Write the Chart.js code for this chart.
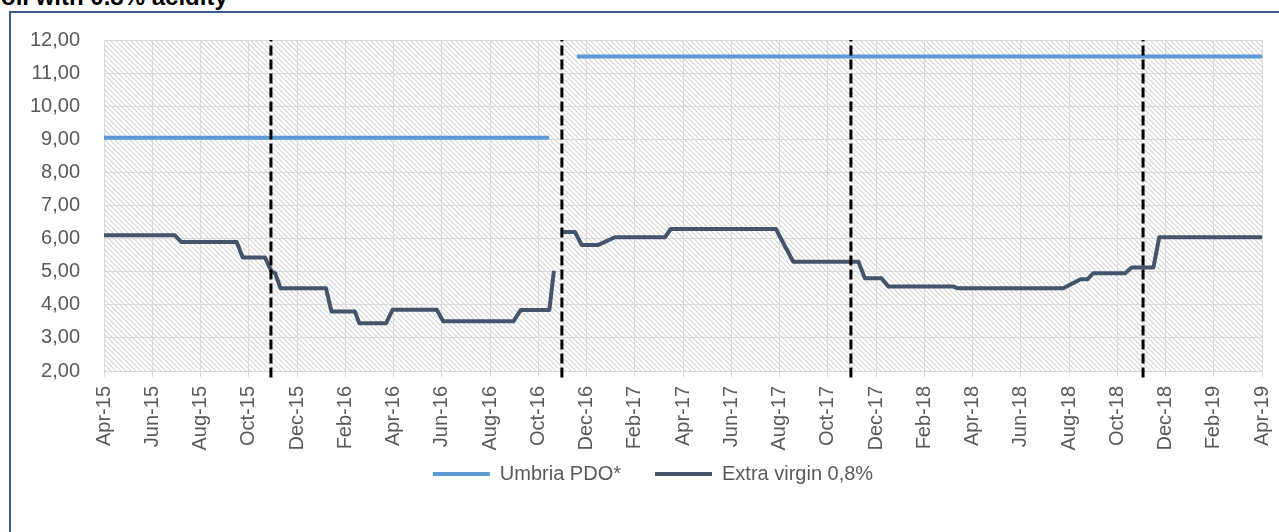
<!DOCTYPE html>
<html lang="en">
<head>
  <meta charset="UTF-8">
  <title>Extra virgin olive oil prices</title>
  <script src="https://cdn.jsdelivr.net/npm/chart.js"></script>
  <style>
    html, body { margin: 0; padding: 0; background: #fff; overflow: hidden; }
    body { width: 1279px; height: 532px; position: relative; font-family: "Liberation Sans", Arial, sans-serif; }
    #titulo { position: absolute; left: 1px; top: -15px; font-weight: bold; font-size: 24px; line-height: 24px; color: #000; white-space: nowrap; }
    #marco { position: absolute; left: 9px; top: 11px; width: 1290px; height: 540px; border: 2px solid #385D8A; }
    #wrap { position: absolute; left: 0; top: 0; width: 1279px; height: 532px; }
  </style>
</head>
<body>
  <div id="titulo">oil with 0.8% acidity</div>
  <div id="marco"></div>
  <div id="wrap"><canvas id="grafico" width="1279" height="532"></canvas></div>

  <script>
    // etiquetas del eje x (cada 2 meses desde Apr-15)
    const xLabels = ['Apr-15','Jun-15','Aug-15','Oct-15','Dec-15','Feb-16','Apr-16','Jun-16','Aug-16','Oct-16','Dec-16',
      'Feb-17','Apr-17','Jun-17','Aug-17','Oct-17','Dec-17','Feb-18','Apr-18','Jun-18','Aug-18','Oct-18','Dec-18','Feb-19','Apr-19'];

    // x = meses desde Apr-15
    const umbriaX = [0, 18.45, 18.9, 19.6, 48];
    const umbriaY = [9.05, 9.05, null, 11.5, 11.5];

    const evX = [0, 2.94, 3.2, 5.5, 5.75, 6.67, 6.95, 7.09, 7.32, 9.2, 9.43, 10.4, 10.58, 11.69, 11.96, 13.79, 14.06,
      16.97, 17.27, 18.46, 18.65, 18.8, 19.03, 19.52, 19.8, 20.49, 21.18, 23.25, 23.49, 27.85, 28.57, 31.27, 31.54,
      32.23, 32.51, 35.2, 35.41, 39.76, 40.48, 40.76, 41.0, 42.32, 42.6, 43.5, 43.74, 48];
    const evY = [6.1, 6.1, 5.9, 5.9, 5.43, 5.43, 5.0, 4.96, 4.5, 4.5, 3.8, 3.8, 3.44, 3.44, 3.85, 3.85, 3.5,
      3.5, 3.84, 3.84, 5.03, null, 6.2, 6.2, 5.81, 5.81, 6.04, 6.04, 6.29, 6.29, 5.3, 5.3, 4.8,
      4.8, 4.55, 4.55, 4.5, 4.5, 4.77, 4.77, 4.95, 4.95, 5.13, 5.13, 6.04, 6.04];

    // separadores verticales (campañas)
    const cortes = [6.92, 18.98, 30.96, 43.07];
    const corteY = [1.8, 12];

    const pares = (xs, ys) => xs.map((x, i) => ({ x: x, y: ys[i] }));

    function rayado() {
      const c = document.createElement('canvas');
      c.width = 5; c.height = 5;
      const g = c.getContext('2d');
      g.fillStyle = '#ffffff';
      g.fillRect(0, 0, 5, 5);
      g.strokeStyle = '#d6d6d6';
      g.lineWidth = 1.2;
      g.beginPath();
      g.moveTo(-1, -1); g.lineTo(6, 6);
      g.moveTo(-1, 4); g.lineTo(1, 6);
      g.moveTo(4, -1); g.lineTo(6, 1);
      g.stroke();
      return g.createPattern(c, 'repeat');
    }

    const fondo = {
      id: 'fondo',
      beforeDraw(chart) {
        const a = chart.chartArea;
        const ctx = chart.ctx;
        ctx.save();
        ctx.fillStyle = rayado();
        ctx.fillRect(a.left, a.top, a.right - a.left, a.bottom - a.top);
        ctx.restore();
      }
    };

    const datasets = [
      {
        label: 'Umbria PDO*',
        data: pares(umbriaX, umbriaY),
        borderColor: '#5B9BD5',
        backgroundColor: '#5B9BD5',
        borderWidth: 4,
        pointRadius: 0,
        spanGaps: false,
        order: 2
      },
      {
        label: 'Extra virgin 0,8%',
        data: pares(evX, evY),
        borderColor: '#44546A',
        backgroundColor: '#44546A',
        borderWidth: 4,
        borderJoinStyle: 'round',
        pointRadius: 0,
        spanGaps: false,
        order: 1
      }
    ];
    cortes.forEach(c => {
      datasets.push({
        label: 'corte',
        data: pares([c, c], corteY),
        borderColor: '#000000',
        borderWidth: 3,
        borderDash: [10, 4],
        pointRadius: 0,
        clip: false,
        order: 0
      });
    });

    new Chart(document.getElementById('grafico').getContext('2d'), {
      type: 'line',
      data: { datasets: datasets },
      plugins: [fondo],
      options: {
        responsive: false,
        animation: false,
        layout: { padding: { top: 40, right: 17, left: 44, bottom: 38 } },
        elements: { line: { tension: 0 } },
        scales: {
          x: {
            type: 'linear',
            min: 0,
            max: 48,
            afterFit: s => {
              s.height = 59;
              s.paddingLeft = 0;
              s.paddingRight = 0;
              // las etiquetas giradas pasan por debajo del eje; sin recorte
              s._computeLabelArea = () => undefined;
            },
            grid: { color: '#d9d9d9', lineWidth: 1, tickLength: 6 },
            border: { color: '#d9d9d9' },
            ticks: {
              stepSize: 2,
              autoSkip: false,
              minRotation: 90,
              maxRotation: 90,
              padding: 9,
              color: '#595959',
              font: { family: 'Liberation Sans', size: 20 },
              callback: v => xLabels[v / 2]
            }
          },
          y: {
            min: 2,
            max: 12,
            afterFit: s => {
              s.width = 60;
              s._computeLabelArea = () => undefined;
            },
            grid: { color: '#d9d9d9', lineWidth: 1, drawTicks: false },
            border: { display: false },
            ticks: {
              stepSize: 1,
              padding: 24,
              color: '#595959',
              font: { family: 'Liberation Sans', size: 20 },
              callback: v => v.toFixed(2).replace('.', ',')
            }
          }
        },
        plugins: {
          tooltip: { enabled: false },
          legend: {
            position: 'bottom',
            labels: {
              usePointStyle: true,
              pointStyle: 'line',
              pointStyleWidth: 57,
              padding: 34,
              color: '#595959',
              font: { family: 'Liberation Sans', size: 20 },
              filter: item => item.text !== 'corte',
              sort: (a, b) => a.datasetIndex - b.datasetIndex
            }
          }
        }
      }
    });
  </script>
</body>
</html>
